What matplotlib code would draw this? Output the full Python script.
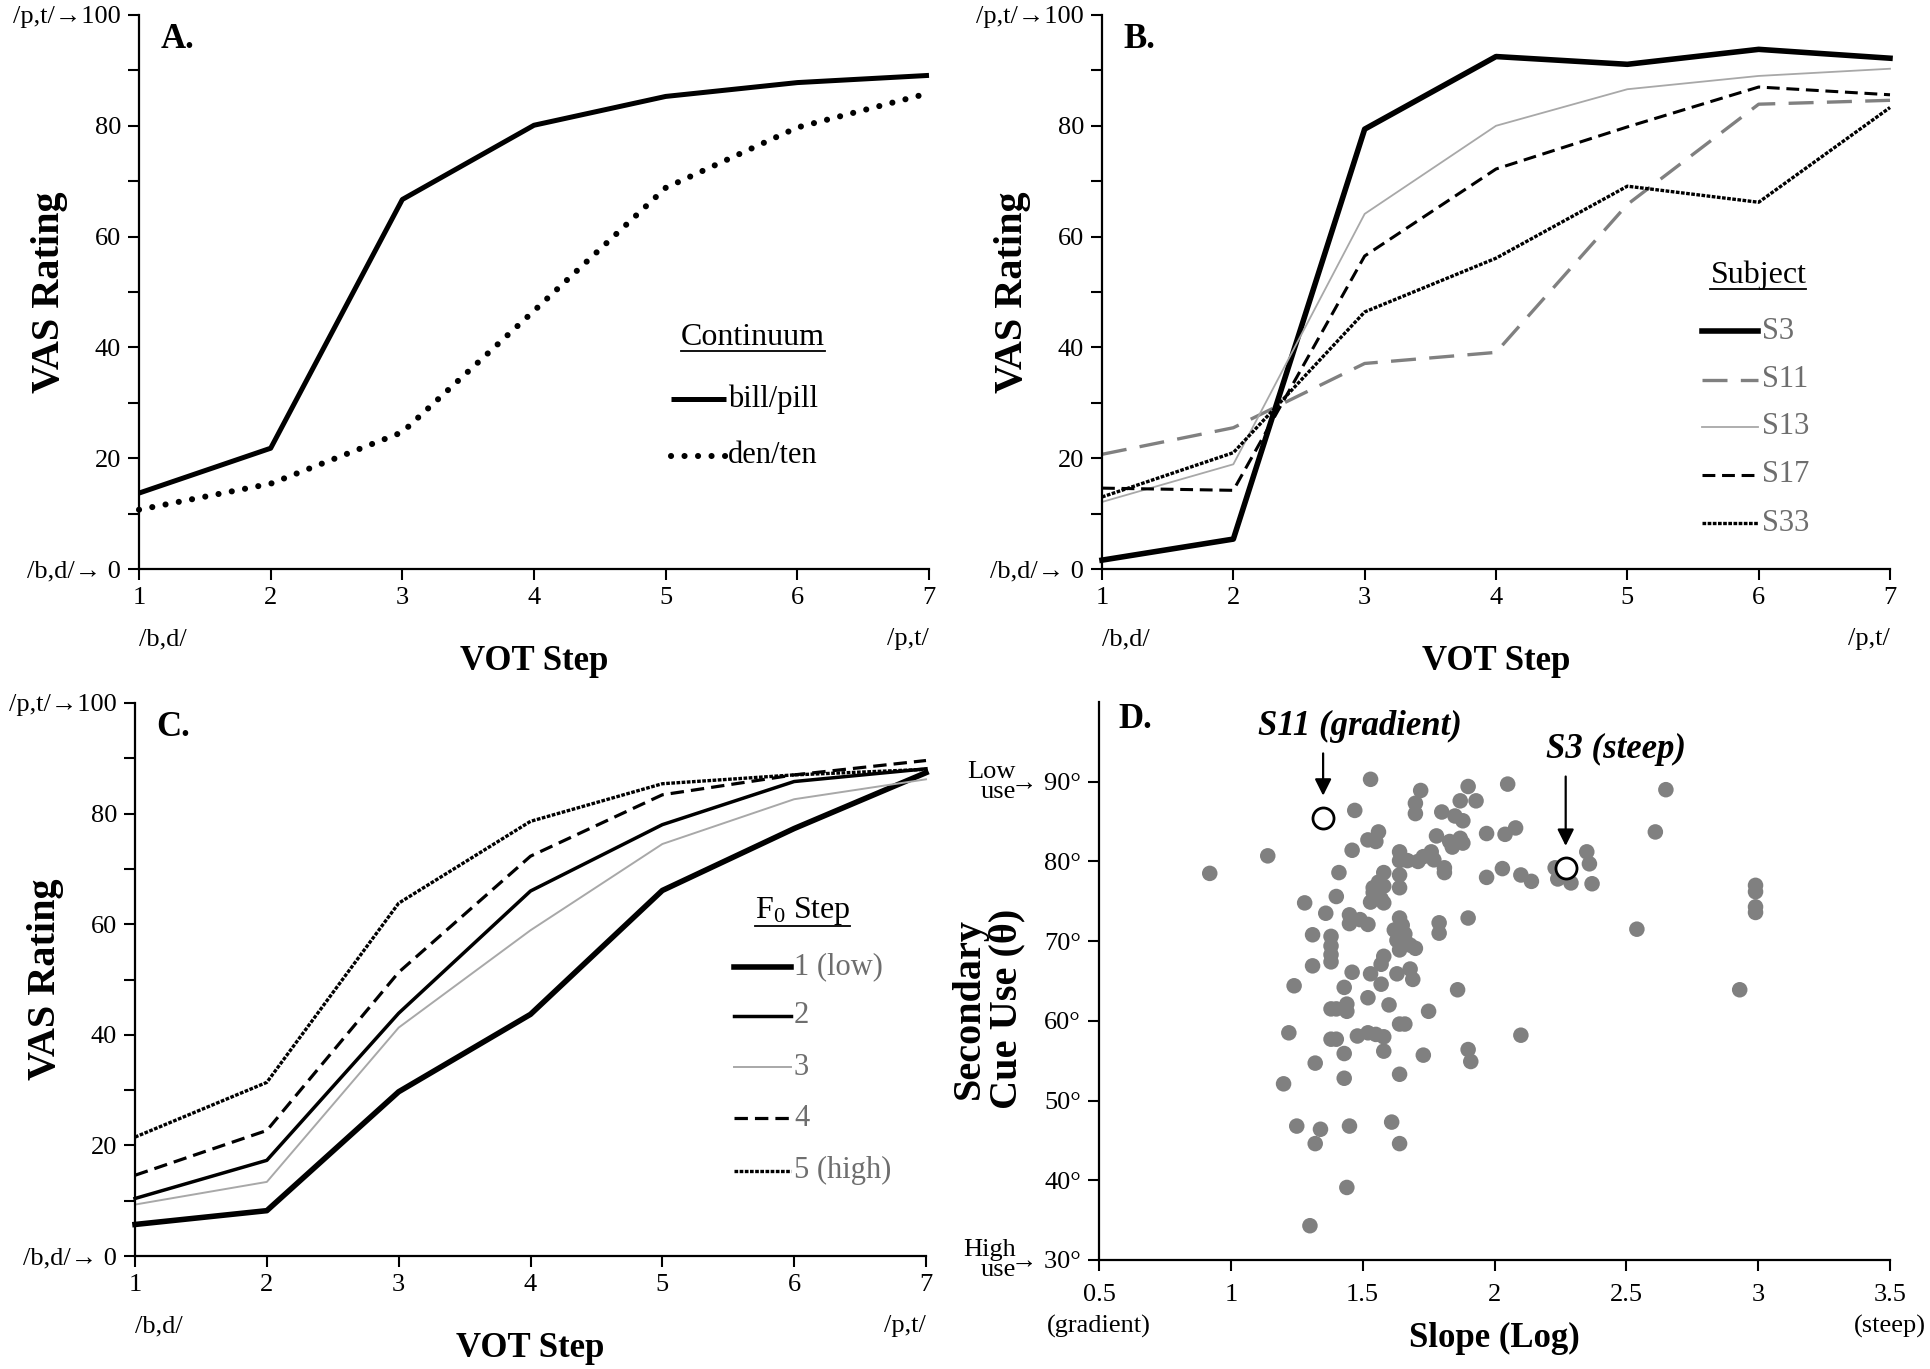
import matplotlib
matplotlib.use("Agg")
import matplotlib.pyplot as plt
from matplotlib.lines import Line2D

plt.rcParams['font.family'] = ['Liberation Serif', 'DejaVu Serif']
plt.rcParams['mathtext.fontset'] = 'custom'
plt.rcParams['mathtext.rm'] = 'Liberation Serif'
plt.rcParams['mathtext.it'] = 'Liberation Serif:italic'
plt.rcParams['mathtext.bf'] = 'Liberation Serif:bold'

# ---------------- data ----------------
vot_steps = [1, 2, 3, 4, 5, 6, 7]

# Panel A
bill_pill = [13.7, 21.8, 66.7, 80.1, 85.3, 87.8, 89.1]
den_ten = [10.7, 15.4, 24.7, 46.6, 68.8, 79.7, 85.9]

# Panel B (subjects)
s3 = [1.6, 5.4, 79.4, 92.5, 91.1, 93.8, 92.2]
s11 = [20.7, 25.5, 37.1, 39.1, 65.8, 83.9, 84.6]
s13 = [12.1, 18.9, 64.1, 80.0, 86.6, 89.0, 90.3]
s17 = [14.6, 14.2, 56.5, 72.2, 79.8, 87.0, 85.6]
s33 = [13.0, 21.0, 46.4, 56.1, 69.1, 66.2, 83.3]
subject_labels = ["S3", "S11", "S13", "S17", "S33"]

# Panel C (F0 steps)
f0_1 = [5.7, 8.2, 29.7, 43.7, 66.1, 77.3, 87.4]
f0_2 = [10.4, 17.3, 43.9, 66.0, 78.0, 85.8, 88.1]
f0_3 = [9.3, 13.4, 41.3, 58.9, 74.5, 82.6, 86.2]
f0_4 = [14.6, 22.7, 51.3, 72.3, 83.4, 87.0, 89.6]
f0_5 = [21.5, 31.4, 63.8, 78.6, 85.4, 87.0, 88.0]
f0_labels = ["1 (low)", "2", "3", "4", "5 (high)"]

# Panel D (slope vs. secondary cue use)
slope = [0.92, 1.14, 1.53, 1.47, 1.72, 1.70, 1.70, 1.80, 1.87, 1.90, 1.93, 1.85, 1.88,
         2.05, 1.97, 2.04, 2.08, 1.78, 1.83, 1.87, 1.88, 1.84, 1.52, 1.56, 1.55, 1.46,
         1.64, 1.64, 1.67, 1.71, 1.73, 1.76, 1.77, 1.81, 1.81, 1.97, 2.03, 2.10, 2.14,
         2.23, 2.24, 2.29, 2.35, 2.36, 2.37, 2.65, 2.61, 2.54, 2.99, 2.99, 2.99, 2.99,
         2.93, 1.41, 1.58, 1.64, 1.64, 1.56, 1.54, 1.58, 1.54, 1.57, 1.53, 1.58, 1.40,
         1.28, 1.36, 1.45, 1.45, 1.49, 1.52, 1.64, 1.65, 1.62, 1.66, 1.63, 1.66, 1.68,
         1.70, 1.64, 1.79, 1.79, 1.90, 1.31, 1.38, 1.38, 1.38, 1.38, 1.31, 1.58, 1.57,
         1.46, 1.53, 1.57, 1.63, 1.68, 1.69, 1.24, 1.43, 1.86, 1.52, 1.60, 1.38, 1.40,
         1.44, 1.44, 1.75, 1.22, 1.38, 1.40, 1.48, 1.52, 1.55, 1.58, 1.58, 1.66, 1.64,
         1.43, 1.73, 1.90, 1.91, 2.10, 1.32, 1.20, 1.43, 1.64, 1.25, 1.34, 1.32, 1.45,
         1.61, 1.64, 1.44, 1.30]
theta = [78.5, 80.7, 90.3, 86.4, 88.9, 87.3, 86.0, 86.2, 87.6, 89.4, 87.6, 85.7, 85.1,
         89.7, 83.5, 83.4, 84.2, 83.2, 82.5, 82.9, 82.3, 81.8, 82.7, 83.7, 82.5, 81.4,
         81.2, 80.1, 80.1, 80.0, 80.6, 81.2, 80.2, 79.2, 78.6, 78.0, 79.1, 78.3, 77.5,
         79.2, 77.8, 77.3, 81.2, 79.7, 77.2, 89.0, 83.7, 71.5, 77.0, 76.2, 74.3, 73.6,
         63.9, 78.6, 78.6, 78.3, 76.7, 77.4, 76.7, 76.9, 76.1, 75.3, 74.9, 74.8, 75.6,
         74.8, 73.5, 73.3, 72.2, 72.7, 72.1, 72.9, 72.0, 71.4, 70.9, 70.1, 70.2, 69.5,
         69.1, 68.9, 72.3, 71.0, 72.9, 70.8, 70.6, 69.4, 68.3, 67.4, 66.9, 68.1, 67.1,
         66.1, 65.9, 64.6, 65.9, 66.5, 65.2, 64.4, 64.2, 63.9, 62.9, 62.0, 61.5, 61.5,
         62.1, 61.2, 61.2, 58.5, 57.7, 57.7, 58.1, 58.5, 58.3, 58.0, 56.2, 59.6, 59.6,
         55.9, 55.7, 56.4, 54.9, 58.2, 54.7, 52.1, 52.8, 53.3, 46.8, 46.4, 44.6, 46.8,
         47.3, 44.6, 39.1, 34.3]
highlight_names = ["S11 (gradient)", "S3 (steep)"]
highlight_slope = [1.35, 2.27]
highlight_theta = [85.5, 79.2]

LEG_GRAY = "#6e6e6e"
TICK_FS = 19
LEG_FS = 22
ARROW = "\u2192"

fig = plt.figure(figsize=(19.3, 13.69), dpi=100)
W, H = 1930.0, 1369.0


def axes_px(x0, x1, ytop, ybot):
    return fig.add_axes([x0 / W, 1 - ybot / H, (x1 - x0) / W, (ybot - ytop) / H])


axA = axes_px(139, 929, 15, 569)
axB = axes_px(1102, 1890, 15, 569)
axC = axes_px(135, 926, 703, 1256)
axD = axes_px(1099, 1890, 702, 1260)

underline_titles = []


def style_line_panel(ax, letter):
    ax.set_xlim(1, 7)
    ax.set_ylim(0, 100)
    for s in ["top", "right"]:
        ax.spines[s].set_visible(False)
    for s in ["left", "bottom"]:
        ax.spines[s].set_linewidth(1.6)
    ax.set_xticks(vot_steps)
    ax.set_xticklabels([str(v) for v in vot_steps])
    yt = list(range(0, 101, 10))
    labels = []
    for v in yt:
        if v == 100:
            labels.append("/p,t/" + ARROW + "100")
        elif v == 0:
            labels.append("/b,d/" + ARROW + " 0")
        elif v % 20 == 0:
            labels.append(str(v))
        else:
            labels.append("")
    ax.set_yticks(yt)
    ax.set_yticklabels(labels)
    ax.tick_params(direction="out", length=8, width=1.5, labelsize=TICK_FS, pad=5)
    ax.text(0.0, -0.127, "/b,d/", transform=ax.transAxes, ha="left", va="center", fontsize=TICK_FS)
    ax.text(1.0, -0.127, "/p,t/", transform=ax.transAxes, ha="right", va="center", fontsize=TICK_FS)
    ax.set_xlabel("VOT Step", fontsize=25, fontweight="bold")
    ax.xaxis.set_label_coords(0.5, -0.167)
    ax.xaxis.label.set_va("center")
    ax.set_ylabel("VAS Rating", fontsize=29, fontweight="bold")
    ax.yaxis.set_label_coords(-0.113, 0.5)
    ax.yaxis.label.set_va("center")
    ax.text(0.027, 0.955, letter, transform=ax.transAxes, fontsize=25, fontweight="bold",
            ha="left", va="center")


# ---------------- Panel A ----------------
style_line_panel(axA, "A.")
stA_bill = dict(color="black", lw=3.6, solid_capstyle="butt")
stA_den = dict(color="black", lw=4.4, linestyle=(0, (0.01, 2.2)), dash_capstyle="round")
axA.plot(vot_steps, bill_pill, clip_on=False, **stA_bill)
axA.plot(vot_steps, den_ten, clip_on=False, **stA_den)
tA = axA.text(0.777, 0.418, "Continuum", transform=axA.transAxes, fontsize=LEG_FS + 1,
              ha="center", va="center")
underline_titles.append(tA)
for y, st, lab in zip([0.307, 0.204], [stA_bill, stA_den], ["bill/pill", "den/ten"]):
    axA.add_line(Line2D([0.673, 0.743], [y, y], transform=axA.transAxes, **st))
    axA.text(0.746, y, lab, transform=axA.transAxes, fontsize=LEG_FS, ha="left", va="center")

# ---------------- Panel B ----------------
style_line_panel(axB, "B.")
stB = [
    dict(color="black", lw=4.0),
    dict(color="#808080", lw=2.4, linestyle=(0, (7.5, 4.0))),
    dict(color="#a8a8a8", lw=1.3),
    dict(color="black", lw=2.2, linestyle=(0, (4.2, 2.2))),
    dict(color="black", lw=2.4, linestyle=(0, (1.1, 0.45))),
]
for vals, st in zip([s3, s11, s13, s17, s33], stB):
    axB.plot(vot_steps, vals, clip_on=False, **st)
tB = axB.text(0.833, 0.531, "Subject", transform=axB.transAxes, fontsize=LEG_FS + 1,
              ha="center", va="center")
underline_titles.append(tB)
for y, st, lab in zip([0.429, 0.342, 0.257, 0.170, 0.083], stB, subject_labels):
    axB.add_line(Line2D([0.761, 0.833], [y, y], transform=axB.transAxes, **st))
    axB.text(0.837, y, lab, transform=axB.transAxes, fontsize=LEG_FS, ha="left", va="center",
             color=LEG_GRAY)

# ---------------- Panel C ----------------
style_line_panel(axC, "C.")
stC = [
    dict(color="black", lw=4.0),
    dict(color="black", lw=2.5),
    dict(color="#a8a8a8", lw=1.4),
    dict(color="black", lw=2.3, linestyle=(0, (4.2, 2.2))),
    dict(color="black", lw=2.4, linestyle=(0, (1.1, 0.45))),
]
for vals, st in zip([f0_1, f0_2, f0_3, f0_4, f0_5], stC):
    axC.plot(vot_steps, vals, clip_on=False, **st)
tC = axC.text(0.844, 0.624, r"F$_{\mathrm{0}}$ Step", transform=axC.transAxes, fontsize=LEG_FS + 1,
              ha="center", va="center")
underline_titles.append(tC)
for y, st, lab in zip([0.523, 0.434, 0.341, 0.249, 0.154], stC, f0_labels):
    axC.add_line(Line2D([0.757, 0.829], [y, y], transform=axC.transAxes, **st))
    axC.text(0.833, y, lab, transform=axC.transAxes, fontsize=LEG_FS, ha="left", va="center",
             color=LEG_GRAY)

# ---------------- Panel D ----------------
axD.set_xlim(0.5, 3.5)
axD.set_ylim(30, 100)
for s in ["top", "right"]:
    axD.spines[s].set_visible(False)
for s in ["left", "bottom"]:
    axD.spines[s].set_linewidth(1.6)
xt = [0.5, 1, 1.5, 2, 2.5, 3, 3.5]
axD.set_xticks(xt)
axD.set_xticklabels(["0.5\n(gradient)", "1", "1.5", "2", "2.5", "3", "3.5\n(steep)"],
                    linespacing=1.5)
ytD = list(range(30, 91, 10))
axD.set_yticks(ytD)
axD.set_yticklabels([(ARROW + " " if v in (30, 90) else "") + f"{v}\u00b0" for v in ytD])
axD.tick_params(direction="out", length=8, width=1.5, labelsize=TICK_FS, pad=5)
axD.tick_params(axis="x", pad=9)
axD.text(-0.105, 90, "Low\nuse", transform=axD.get_yaxis_transform(), fontsize=TICK_FS,
         ha="right", va="center", linespacing=0.9)
axD.text(-0.105, 30, "High\nuse", transform=axD.get_yaxis_transform(), fontsize=TICK_FS,
         ha="right", va="center", linespacing=0.9)
axD.scatter(slope, theta, s=125, color="#808080", edgecolors="none", zorder=2, clip_on=False)
axD.scatter(highlight_slope, highlight_theta, s=230, facecolor="white", edgecolors="black",
            linewidths=2.0, zorder=3)
axD.annotate("", xy=(highlight_slope[0], 87.9), xytext=(highlight_slope[0], 93.9),
             arrowprops=dict(arrowstyle="-|>", color="black", lw=1.6, mutation_scale=25))
axD.annotate("", xy=(highlight_slope[1], 81.6), xytext=(highlight_slope[1], 91.0),
             arrowprops=dict(arrowstyle="-|>", color="black", lw=1.6, mutation_scale=25))
axD.text(1.49, 96.9, highlight_names[0], fontsize=25, fontweight="bold", fontstyle="italic",
         ha="center", va="center")
axD.text(2.46, 94.1, highlight_names[1], fontsize=25, fontweight="bold", fontstyle="italic",
         ha="center", va="center")
axD.set_xlabel("Slope (Log)", fontsize=25, fontweight="bold")
axD.xaxis.set_label_coords(0.5, -0.14)
axD.xaxis.label.set_va("center")
axD.set_ylabel("Secondary\nCue Use (\u03b8)", fontsize=29, fontweight="bold", linespacing=1.0)
axD.yaxis.set_label_coords(-0.14, 0.45)
axD.yaxis.label.set_va("center")
axD.text(0.024, 0.968, "D.", transform=axD.transAxes, fontsize=25, fontweight="bold",
         ha="left", va="center")

# underline legend titles
fig.canvas.draw()
r = fig.canvas.get_renderer()
for t in underline_titles:
    bb = t.get_window_extent(renderer=r)
    yline = bb.y0 + 1
    fig.add_artist(Line2D([bb.x0 / W, bb.x1 / W], [yline / H, yline / H],
                          transform=fig.transFigure, color="black", lw=1.3))

fig.savefig("out.png", dpi=100, facecolor="white")
